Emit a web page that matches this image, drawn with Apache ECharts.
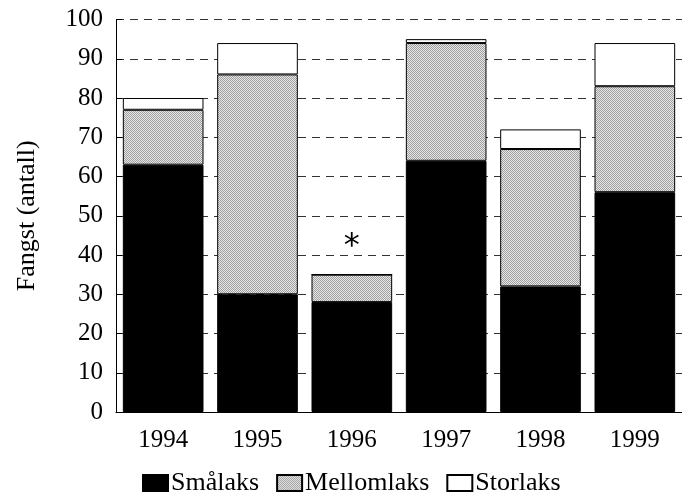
<!DOCTYPE html>
<html>
<head>
<meta charset="utf-8">
<script src="https://cdn.jsdelivr.net/npm/echarts@6/dist/echarts.min.js"></script>
<style>html,body{margin:0;padding:0;background:#fff}#c{width:682px;height:495px}</style>
</head>
<body>
<div id="c"></div>
<script>
var categories = ['1994', '1995', '1996', '1997', '1998', '1999'];
var smalaks = [63, 30, 28, 64, 32, 56];
var mellomlaks = [14, 56, 7, 30, 35, 27];
var storlaks = [3, 8, 0, 1, 5, 11];
var seriesNames = ['Smålaks', 'Mellomlaks', 'Storlaks'];
var yTicks = [0, 10, 20, 30, 40, 50, 60, 70, 80, 90, 100];
var asteriskMark = { category: '1996', value: 43, text: '*' };

function makePattern() {
  var cv = document.createElement('canvas');
  cv.width = 2; cv.height = 2;
  var ctx = cv.getContext('2d');
  ctx.fillStyle = '#e6e6e6'; ctx.fillRect(0, 0, 2, 2);
  ctx.fillStyle = '#a0a0a0'; ctx.fillRect(0, 0, 1, 1); ctx.fillRect(1, 1, 1, 1);
  return cv;
}
var pattern = { image: makePattern(), repeat: 'repeat' };

var font = 'Liberation Serif';
var chart = echarts.init(document.getElementById('c'), null, { renderer: 'canvas' });
chart.setOption({
  animation: false,
  backgroundColor: '#fff',
  textStyle: { fontFamily: font, color: '#000' },
  grid: { left: 116, top: 19.5, width: 568, height: 392.5, containLabel: false },
  legend: {
    left: 137, top: 465, icon: 'rect',
    itemWidth: 25, itemHeight: 16, itemGap: 17,
    textStyle: { fontFamily: font, fontSize: 26, color: '#000', padding: [0, 0, 0, -2] },
    data: seriesNames
  },
  xAxis: {
    type: 'category', data: categories,
    axisLine: { lineStyle: { color: '#000', width: 1 } },
    axisTick: { alignWithLabel: true, length: 8, lineStyle: { color: '#555' } },
    axisLabel: { fontFamily: font, fontSize: 25, color: '#000', margin: 16 }
  },
  yAxis: {
    type: 'value', min: yTicks[0], max: yTicks[yTicks.length - 1], interval: 10,
    name: 'Fangst (antall)', nameLocation: 'middle', nameGap: 76, nameRotate: 90,
    nameTextStyle: { fontFamily: font, fontSize: 26, color: '#000' },
    axisLine: { show: true, lineStyle: { color: '#000', width: 1 } },
    axisTick: { show: true, inside: true, length: 6, lineStyle: { color: '#000' } },
    axisLabel: { fontFamily: font, fontSize: 25, color: '#000', margin: 13 },
    splitLine: { show: true, lineStyle: { color: '#333', type: [8, 6], width: 1 } }
  },
  series: [
    { name: seriesNames[0], type: 'bar', stack: 's', data: smalaks, barCategoryGap: '14.5%',
      itemStyle: { color: '#000', borderColor: '#000', borderWidth: 1 } },
    { name: seriesNames[1], type: 'bar', stack: 's', data: mellomlaks,
      itemStyle: { color: pattern, borderColor: '#000', borderWidth: 1 } },
    { name: seriesNames[2], type: 'bar', stack: 's', data: storlaks,
      itemStyle: { color: '#fff', borderColor: '#000', borderWidth: 1 },
      markPoint: {
        symbol: 'circle', symbolSize: 0,
        label: { show: true, formatter: asteriskMark.text, fontFamily: 'DejaVu Sans', fontSize: 32, color: '#000', offset: [0, 3] },
        data: [{ coord: [asteriskMark.category, asteriskMark.value] }]
      } }
  ]
});
</script>
</body>
</html>
